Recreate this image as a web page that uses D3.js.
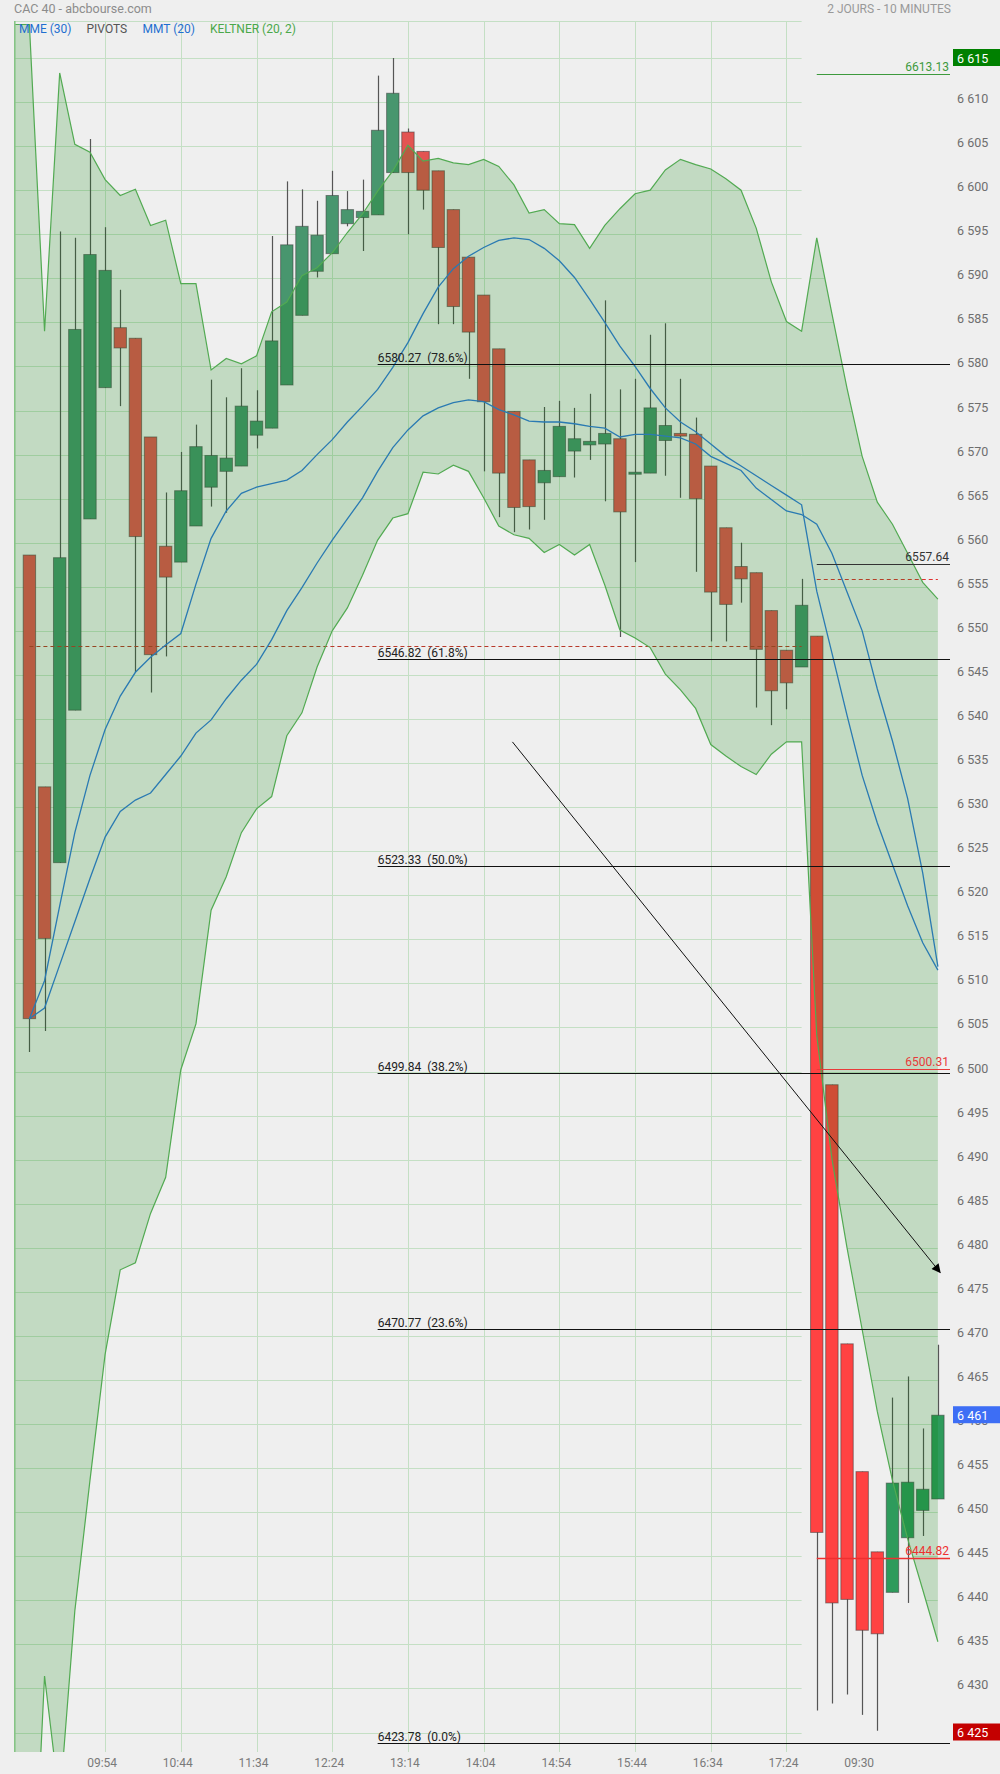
<!DOCTYPE html>
<html><head><meta charset="utf-8">
<script src="https://cdn.jsdelivr.net/npm/d3@7"></script>
<style>
html,body{margin:0;padding:0;background:#efefef;}
svg{display:block;font-family:Roboto,"Noto Sans",sans-serif;}
</style></head><body>
<svg id="chart" width="1000" height="1774"></svg>
<script>
// ---------- DATA ----------
const candleIndex = d3.range(0, 61); // 61 bars of 10 minutes (day 1: 0..51, day 2: 52..60)
const firstBarDay2 = 52;
const opens  = [6558.6,6532.3,6523.7,6541.0,6562.7,6577.6,6584.4,6583.2,6572.0,6559.6,
                6557.8,6561.9,6566.3,6568.1,6568.7,6572.2,6573.0,6577.9,6585.8,6590.8,
                6592.8,6596.2,6596.9,6597.2,6602.0,6606.6,6604.4,6602.2,6597.8,6592.4,
                6588.1,6582.0,6574.9,6569.4,6566.8,6567.5,6570.4,6571.1,6571.2,6571.8,
                6567.8,6567.9,6571.6,6572.4,6572.3,6568.7,6561.7,6557.3,6556.6,6552.3,
                6547.8,6545.9,6549.4,6498.5,6469.1,6454.6,6445.5,6440.9,6447.1,6450.2,6451.5];
const highs  = [6558.6,6532.3,6595.3,6594.6,6605.8,6595.8,6588.7,6583.2,6572.0,6565.7,
                6570.3,6573.4,6578.5,6576.5,6579.8,6577.3,6594.8,6601.0,6600.1,6598.8,
                6602.2,6599.9,6601.2,6613.0,6615.0,6607.0,6604.4,6602.2,6597.8,6592.4,
                6588.1,6582.0,6574.9,6569.4,6575.4,6576.1,6575.3,6576.9,6587.5,6577.4,
                6578.6,6583.6,6584.9,6578.6,6574.2,6568.7,6561.7,6560.0,6556.6,6552.3,
                6547.8,6555.9,6549.4,6498.5,6469.1,6454.6,6445.5,6463.0,6465.4,6459.5,6469.0];
const lows   = [6502.2,6504.6,6523.7,6541.0,6562.7,6577.6,6575.5,6545.3,6543.0,6547.1,
                6557.8,6561.9,6564.1,6563.4,6568.7,6570.7,6573.0,6577.9,6585.8,6590.1,
                6592.8,6595.9,6593.1,6597.2,6602.0,6595.0,6597.8,6584.8,6584.8,6578.6,
                6568.1,6562.9,6561.2,6561.5,6562.6,6567.5,6567.4,6569.4,6564.7,6549.3,
                6557.8,6567.9,6567.6,6565.1,6556.7,6548.8,6548.8,6553.2,6541.3,6539.3,
                6541.1,6545.9,6427.5,6428.3,6429.3,6427.0,6425.2,6440.9,6439.7,6447.3,6451.5];
const closes = [6506.0,6515.1,6558.3,6584.2,6592.7,6590.9,6582.1,6560.7,6547.3,6556.1,
                6565.9,6570.9,6569.9,6569.6,6575.5,6573.8,6582.9,6593.8,6595.9,6594.9,
                6599.4,6597.8,6597.6,6606.8,6611.0,6602.0,6600.0,6593.5,6586.8,6583.9,
                6576.0,6567.9,6564.0,6564.1,6568.2,6573.2,6571.8,6571.5,6572.4,6563.5,
                6568.0,6575.3,6573.3,6572.1,6565.0,6554.4,6553.0,6555.9,6547.9,6543.2,
                6544.1,6552.9,6447.7,6439.7,6440.1,6436.6,6436.2,6453.3,6453.4,6452.6,6461.0];

// Keltner (20, 2) bands
const keltnerUpper = [6618.8,6584.0,6613.3,6605.2,6604.3,6601.2,6599.4,6600.1,6596.0,6596.6,
                      6589.4,6589.4,6579.6,6580.9,6580.3,6581.2,6586.2,6587.3,6590.3,6591.2,
                      6592.9,6595.2,6597.3,6599.9,6602.2,6605.1,6603.3,6603.6,6603.1,6602.9,
                      6603.5,6602.7,6600.6,6597.4,6597.8,6596.2,6596.1,6593.4,6596.0,6597.9,
                      6599.6,6600.0,6602.3,6603.5,6602.9,6602.4,6601.3,6600.0,6595.7,6589.6,
                      6585.1,6584.0,6594.6,6586.0,6577.5,6569.8,6564.6,6562.1,6558.8,6555.5,6553.6];
const keltnerLower = [6395.7,6431.4,6417.0,6438.8,6453.6,6467.9,6477.5,6478.3,6483.9,6488.0,
                      6500.2,6505.4,6518.3,6522.1,6527.1,6529.8,6531.2,6538.1,6540.7,6545.9,
                      6550.0,6552.6,6556.3,6560.3,6562.8,6563.3,6568.0,6567.8,6568.8,6568.1,
                      6565.1,6561.9,6560.9,6560.5,6558.9,6559.8,6558.6,6559.8,6555.2,6550.1,
                      6549.2,6548.1,6545.1,6543.3,6541.2,6537.1,6535.8,6534.6,6533.7,6536.0,
                      6537.4,6537.4,6504.1,6490.1,6480.0,6470.7,6461.4,6453.6,6447.0,6441.2,6435.3];
// moving averages
const mme30 = [6506.0,6510.3,6518.8,6527.1,6533.6,6538.8,6542.6,6545.3,6547.0,6548.4,
               6549.7,6555.3,6560.5,6563.6,6565.6,6566.3,6566.7,6567.1,6568.2,6570.0,
               6571.7,6573.7,6575.5,6577.4,6579.9,6582.7,6586.0,6589.0,6591.1,6592.5,
               6593.5,6594.3,6594.6,6594.4,6593.4,6592.0,6590.1,6587.6,6585.0,6582.3,
               6580.0,6577.5,6575.3,6573.7,6572.6,6571.2,6569.8,6568.7,6567.6,6566.5,
               6565.4,6564.3,6554.5,6547.5,6540.4,6533.6,6528.2,6523.5,6518.8,6514.6,6511.5];
const mmt20 = [6506.0,6507.2,6512.1,6517.0,6521.9,6526.6,6529.5,6530.8,6531.6,6533.7,
               6535.8,6538.4,6539.9,6542.3,6544.4,6546.2,6549.0,6552.3,6554.9,6557.7,
               6560.3,6562.7,6565.1,6568.1,6570.8,6572.8,6574.4,6575.3,6575.9,6576.2,
               6576.0,6575.1,6574.5,6573.8,6573.7,6573.7,6573.5,6573.2,6573.0,6572.0,
               6572.3,6572.3,6572.1,6571.9,6571.2,6569.8,6569.0,6568.2,6566.2,6564.9,
               6563.6,6563.2,6562.1,6558.8,6554.4,6550.0,6543.4,6537.5,6531.0,6522.5,6511.9];

const tickIndex  = [5,10,15,20,25,30,35,40,45,50,55];
const tickLabels = ["09:54","10:44","11:34","12:24","13:14","14:04","14:54","15:44","16:34","17:24","09:30"];
const yTickValues = d3.range(6425, 6616, 5);

const fibLevels = [6580.27, 6546.82, 6523.33, 6499.84, 6470.77, 6423.78];
const fibPct    = ["78.6%", "61.8%", "50.0%", "38.2%", "23.6%", "0.0%"];
const fibStartIndex = 23;

const pivotPrevDay = 6548.3;   // dashed, day 1
const pivotDay = 6555.9;       // dashed, day 2
const pivotLevels = [6613.13, 6557.64, 6500.31, 6444.82];
const pivotLevelColors = ["#3d9a3d", "#333333", "#e83a3a", "#ee3030"];

const trendStart = [31.9, 6537.4];
const trendEnd   = [60.15, 6477.2];

const lastPrice = 6461, rangeHigh = 6615, rangeLow = 6425;

// ---------- LAYOUT ----------
const svg = d3.select("#chart");
const plotTop = 21, plotBottom = 1752;
const x = d3.scaleLinear().domain([-1, 60.8]).range([14.26, 950]);
const y = d3.scaleLinear().domain([6425, 6615]).range([1732.5, 58]);
const fmt = d3.formatLocale({decimal: ".", thousands: " ", grouping: [3], currency: ["", ""]}).format(",d");
const bodyW = 12.4;
const gridColor = "#c4dfc4";

svg.append("rect").attr("width", 1000).attr("height", 1774).attr("fill", "#efefef");

const band = [{i: -1, u: keltnerUpper[0], l: keltnerLower[0]}]
  .concat(candleIndex.map(i => ({i, u: keltnerUpper[i], l: keltnerLower[i]})));
const bandArea = d3.area().x(d => x(d.i)).y0(d => y(d.l)).y1(d => y(d.u));

const defs = svg.append("defs");
defs.append("clipPath").attr("id", "plotClip")
  .append("rect").attr("x", 14).attr("y", plotTop).attr("width", 936).attr("height", plotBottom - plotTop);
defs.append("clipPath").attr("id", "bandClip")
  .append("path").attr("d", bandArea(band));
defs.append("marker").attr("id", "arrowHead")
  .attr("viewBox", "0 0 10 10").attr("refX", 9).attr("refY", 5)
  .attr("markerWidth", 13).attr("markerHeight", 9).attr("markerUnits", "userSpaceOnUse")
  .attr("orient", "auto")
  .append("path").attr("d", "M0,0 L10,5 L0,10 Z").attr("fill", "#000");

// grid (day 1 full, day 2 only visible inside the Keltner fill)
const grid = svg.append("g").attr("clip-path", "url(#plotClip)");
const gridRight = x(firstBarDay2 - 1);
grid.selectAll("line.h").data(yTickValues).join("line").attr("class", "h")
  .attr("x1", x(-1)).attr("x2", gridRight)
  .attr("y1", d => Math.round(y(d)) + 0.5).attr("y2", d => Math.round(y(d)) + 0.5)
  .attr("stroke", gridColor).attr("stroke-width", 1);
grid.append("line").attr("x1", x(-1)).attr("x2", gridRight)
  .attr("y1", plotTop + 0.5).attr("y2", plotTop + 0.5).attr("stroke", gridColor);
grid.selectAll("line.v").data(tickIndex.filter(i => i < firstBarDay2)).join("line").attr("class", "v")
  .attr("x1", d => Math.round(x(d)) + 0.5).attr("x2", d => Math.round(x(d)) + 0.5)
  .attr("y1", plotTop).attr("y2", plotBottom)
  .attr("stroke", gridColor).attr("stroke-width", 1);
svg.append("g").attr("clip-path", "url(#bandClip)")
  .selectAll("line").data(yTickValues).join("line")
  .attr("x1", gridRight).attr("x2", x(60))
  .attr("y1", d => Math.round(y(d)) + 0.5).attr("y2", d => Math.round(y(d)) + 0.5)
  .attr("stroke", gridColor).attr("stroke-width", 1);

const plot = svg.append("g").attr("clip-path", "url(#plotClip)");

// candles
const candles = candleIndex.map(i => ({i, o: opens[i], h: highs[i], l: lows[i], c: closes[i]}));
const colorOf = d => {
  const up = d.c >= d.o;
  if (d.i >= firstBarDay2) return up ? "#2e9b5c" : "#ff4242";
  return up ? "#48966e" : "#e35452";
};
const cg = plot.append("g");
cg.selectAll("line").data(candles).join("line")
  .attr("x1", d => Math.round(x(d.i)) + 0.5).attr("x2", d => Math.round(x(d.i)) + 0.5)
  .attr("y1", d => y(d.h)).attr("y2", d => y(d.l))
  .attr("stroke", "#555").attr("stroke-width", 1.2);
cg.selectAll("rect").data(candles).join("rect")
  .attr("x", d => x(d.i) - bodyW / 2).attr("width", bodyW)
  .attr("y", d => y(Math.max(d.o, d.c)))
  .attr("height", d => Math.max(2, Math.abs(y(d.o) - y(d.c))))
  .attr("fill", colorOf)
  .attr("stroke", "rgba(60,60,60,0.55)").attr("stroke-width", 1);

// pivot dashed lines
plot.append("line").attr("x1", x(0)).attr("x2", x(firstBarDay2 - 1))
  .attr("y1", Math.round(y(pivotPrevDay)) + 0.5).attr("y2", Math.round(y(pivotPrevDay)) + 0.5)
  .attr("stroke", "#b8392a").attr("stroke-width", 1).attr("stroke-dasharray", "4,3");
plot.append("line").attr("x1", x(firstBarDay2)).attr("x2", x(60))
  .attr("y1", Math.round(y(pivotDay)) + 0.5).attr("y2", Math.round(y(pivotDay)) + 0.5)
  .attr("stroke", "#e03030").attr("stroke-width", 1).attr("stroke-dasharray", "4,3");

// Keltner band
plot.append("path").datum(band)
  .attr("d", bandArea)
  .attr("fill", "rgba(0,128,0,0.19)");
plot.append("path").datum(band)
  .attr("d", d3.line().x(d => x(d.i)).y(d => y(d.u)))
  .attr("fill", "none").attr("stroke", "#52aa52").attr("stroke-width", 1.2);
plot.append("path").datum(band)
  .attr("d", d3.line().x(d => x(d.i)).y(d => y(d.l)))
  .attr("fill", "none").attr("stroke", "#52aa52").attr("stroke-width", 1.2);
svg.append("line").attr("x1", 14.8).attr("x2", 14.8).attr("y1", plotTop).attr("y2", plotBottom)
  .attr("stroke", "#86c486").attr("stroke-width", 1.6);

// moving averages
[mme30, mmt20].forEach(ser => {
  plot.append("path").datum(candleIndex)
    .attr("d", d3.line().x(i => x(i)).y(i => y(ser[i])))
    .attr("fill", "none").attr("stroke", "#2a7ab2").attr("stroke-width", 1.3);
});

// pivot level lines with labels
const lv = svg.append("g");
pivotLevels.forEach((v, k) => {
  lv.append("line").attr("x1", x(firstBarDay2)).attr("x2", x.range()[1])
    .attr("y1", Math.round(y(v)) + 0.5).attr("y2", Math.round(y(v)) + 0.5)
    .attr("stroke", pivotLevelColors[k]).attr("stroke-width", k === 3 ? 1.6 : 1.1);
  lv.append("text").attr("x", x.range()[1] - 1).attr("y", y(v) - 3)
    .attr("text-anchor", "end").attr("font-size", 12).attr("fill", pivotLevelColors[k])
    .text(v.toFixed(2));
});

// Fibonacci lines
const fg = svg.append("g");
fibLevels.forEach((v, k) => {
  fg.append("line").attr("x1", x(fibStartIndex)).attr("x2", x.range()[1])
    .attr("y1", Math.round(y(v)) + 0.5).attr("y2", Math.round(y(v)) + 0.5)
    .attr("stroke", "#111").attr("stroke-width", 1.2);
  fg.append("text").attr("x", x(fibStartIndex)).attr("y", y(v) - 2)
    .attr("font-size", 12).attr("fill", "#222").attr("xml:space", "preserve")
    .text(v.toFixed(2) + "  (" + fibPct[k] + ")");
});

// trend arrow
svg.append("line")
  .attr("x1", x(trendStart[0])).attr("y1", y(trendStart[1]))
  .attr("x2", x(trendEnd[0])).attr("y2", y(trendEnd[1]))
  .attr("stroke", "#111").attr("stroke-width", 1).attr("marker-end", "url(#arrowHead)");

// y axis labels
const ya = svg.append("g");
ya.selectAll("text").data(yTickValues).join("text")
  .attr("x", 957).attr("y", d => y(d) + 1)
  .attr("font-size", 12.5).attr("fill", "#6e6e6e")
  .text(d => fmt(d));

// price boxes
[[rangeHigh, "#008000"], [lastPrice, "#3d6ef5"], [rangeLow, "#c40000"]].forEach(([v, col]) => {
  ya.append("rect").attr("x", 953).attr("width", 47).attr("y", y(v) - 9).attr("height", 17).attr("fill", col);
  ya.append("text").attr("x", 957).attr("y", y(v) + 4.5).attr("font-size", 12.5)
    .attr("fill", "#fff").text(fmt(v));
});

// x axis labels
svg.append("g").selectAll("text").data(tickIndex).join("text")
  .attr("x", d => x(d) - 3).attr("y", 1767).attr("text-anchor", "middle")
  .attr("font-size", 12).attr("fill", "#7a7a7a")
  .text((d, k) => tickLabels[k]);

// header
svg.append("text").attr("x", 14).attr("y", 12.5).attr("font-size", 12.5).attr("fill", "#8c8c8c")
  .text("CAC 40 - abcbourse.com");
svg.append("text").attr("x", 951).attr("y", 12.5).attr("font-size", 12).attr("fill", "#999")
  .attr("text-anchor", "end").text("2 JOURS - 10 MINUTES");
const legend = [["MME (30)", "#1f6fd0", 19], ["PIVOTS", "#555", 86.5], ["MMT (20)", "#1f6fd0", 142.5], ["KELTNER (20, 2)", "#4aa84a", 210]];
legend.forEach(([t, c, lx]) => {
  svg.append("text").attr("x", lx).attr("y", 32.5).attr("font-size", 12).attr("fill", c).text(t);
});
</script>
</body></html>
